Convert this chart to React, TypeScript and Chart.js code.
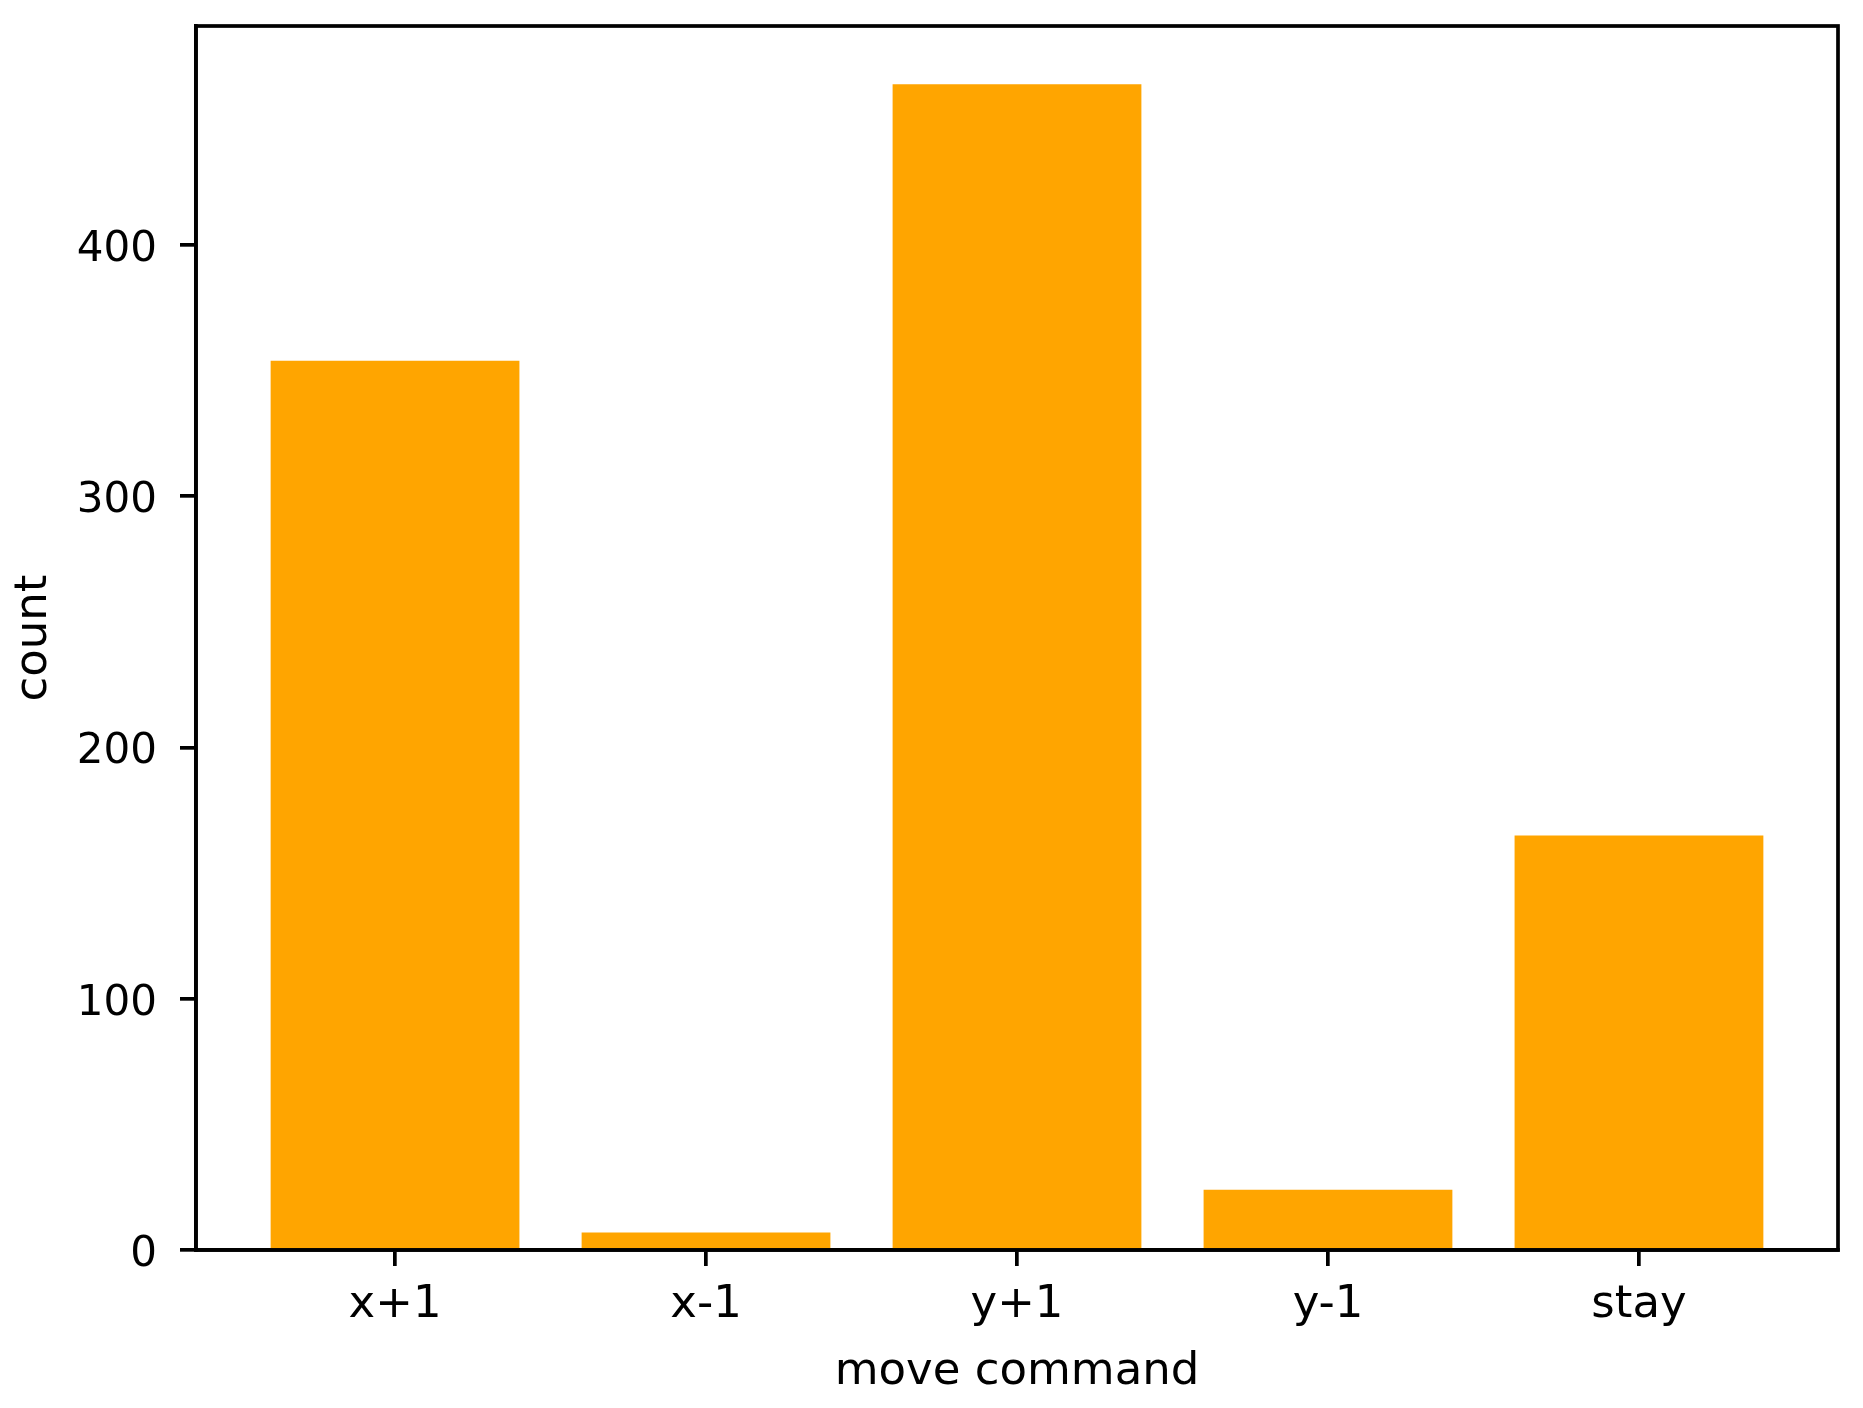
import React, { useEffect, useRef } from "react";
import { Chart, registerables } from "chart.js";

Chart.register(...registerables);

const categories: string[] = ["x+1", "x-1", "y+1", "y-1", "stay"];
const counts: number[] = [354, 7, 464, 24, 165];
const yTickValues: number[] = [0, 100, 200, 300, 400];
const xAxisTitle = "move command";
const yAxisTitle = "count";

const W = 1863;
const H = 1408;
const FONT = "'DejaVu Sans', sans-serif";
const FS = 45;
const FS_Y = 42;
const LW = 3.7;

const frame = {
  id: "frame",
  afterDatasetsDraw(chart: any) {
    const { ctx, chartArea } = chart;
    ctx.save();
    ctx.strokeStyle = "#000";
    ctx.lineWidth = LW;
    ctx.lineJoin = "miter";
    ctx.strokeRect(
      chartArea.left,
      chartArea.top,
      chartArea.right - chartArea.left,
      chartArea.bottom - chartArea.top
    );
    ctx.restore();
  },
};

export default function App() {
  const ref = useRef<HTMLCanvasElement | null>(null);

  useEffect(() => {
    if (!ref.current) return;
    const yMax = Math.max(...counts) * 1.05;
    const n = categories.length;
    const margin = 0.4 + 0.05 * (n - 1 + 0.8);
    const chart = new Chart(ref.current, {
      type: "bar",
      data: {
        datasets: [
          {
            data: categories.map((_, i) => ({ x: i, y: counts[i] })),
            backgroundColor: "#FFA500",
            borderWidth: 0,
            categoryPercentage: 1,
            barPercentage: 0.8,
          } as any,
        ],
      },
      plugins: [frame],
      options: {
        animation: false,
        responsive: false,
        devicePixelRatio: 1,
        layout: { padding: { left: 0, top: 26, right: 25, bottom: 0 } },
        plugins: { legend: { display: false }, tooltip: { enabled: false } },
        scales: {
          x: {
            type: "linear",
            min: -margin,
            max: n - 1 + margin,
            offset: false,
            afterBuildTicks: (scale: any) => {
              scale.ticks = categories.map((_, i) => ({ value: i }));
            },
            afterFit: (scale: any) => {
              scale.height = 158;
              scale.paddingLeft = 0;
              scale.paddingRight = 0;
            },
            ticks: {
              callback: (v: any) => categories[Math.round(Number(v))] ?? "",
              color: "#000",
              font: { family: FONT, size: FS },
              padding: 12,
              maxRotation: 0,
              autoSkip: false,
            },
            grid: {
              drawOnChartArea: false,
              drawTicks: true,
              tickLength: 16,
              tickWidth: LW,
              tickColor: "#000",
              color: "#000",
              lineWidth: LW,
              offset: false,
            },
            border: { display: true, color: "#000", width: LW },
            title: {
              display: true,
              text: xAxisTitle,
              color: "#000",
              font: { family: FONT, size: FS },
              padding: { top: 0, bottom: 9 },
            },
          },
          y: {
            type: "linear",
            min: 0,
            max: yMax,
            afterBuildTicks: (scale: any) => {
              scale.ticks = yTickValues.map((v) => ({ value: v }));
            },
            afterFit: (scale: any) => {
              scale.width = 196;
              scale.paddingTop = 0;
              scale.paddingBottom = 0;
            },
            ticks: {
              color: "#000",
              font: { family: FONT, size: FS_Y },
              padding: 23,
              labelOffset: 5,
            },
            grid: {
              drawOnChartArea: false,
              drawTicks: true,
              tickLength: 16,
              tickWidth: LW,
              tickColor: "#000",
              color: "#000",
              lineWidth: LW,
            },
            border: { display: true, color: "#000", width: LW },
            title: {
              display: true,
              text: yAxisTitle,
              color: "#000",
              font: { family: FONT, size: FS },
              padding: { top: 7, bottom: 0 },
            },
          },
        },
      } as any,
    });
    return () => chart.destroy();
  }, []);

  return (
    <div style={{ position: "absolute", left: 0, top: 0, width: W, height: H, background: "#fff" }}>
      <canvas ref={ref} width={W} height={H} style={{ display: "block", width: W, height: H }} />
    </div>
  );
}
